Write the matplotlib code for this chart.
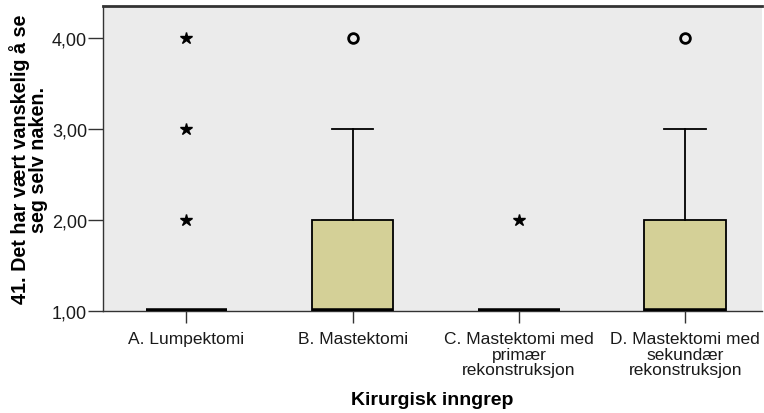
import matplotlib
matplotlib.use("Agg")
import matplotlib.pyplot as plt

# Boxplot summary (one entry per surgery group)
groups = ["A. Lumpektomi", "B. Mastektomi",
          "C. Mastektomi med\nprimær\nrekonstruksjon",
          "D. Mastektomi med\nsekundær\nrekonstruksjon"]
medians = [1.0, 1.0, 1.0, 1.0]
q1 = [1.0, 1.0, 1.0, 1.0]
q3 = [1.0, 2.0, 1.0, 2.0]
whisker_lo = [1.0, 1.0, 1.0, 1.0]
whisker_hi = [1.0, 3.0, 1.0, 3.0]
outliers = [[], [4.0], [], [4.0]]          # drawn as circles
extremes = [[2.0, 3.0, 4.0], [], [2.0], []]  # drawn as stars

yticks = [1.0, 2.0, 3.0, 4.0]
ytick_labels = ["1,00", "2,00", "3,00", "4,00"]

BG = "#ebebeb"
BOX = "#d4d097"

plt.rcParams["font.family"] = ["Liberation Sans", "DejaVu Sans"]

fig = plt.figure(figsize=(7.64, 4.14), dpi=100)
ax = fig.add_axes([0.135, 0.2464, 0.862, 0.7366])
ax.set_facecolor(BG)

stats = []
for i, g in enumerate(groups):
    stats.append(dict(med=medians[i], q1=q1[i], q3=q3[i],
                      whislo=whisker_lo[i], whishi=whisker_hi[i],
                      fliers=outliers[i], label=g))

pos = list(range(1, len(groups) + 1))
ax.bxp(stats, positions=pos, widths=0.49, patch_artist=True,
       boxprops=dict(facecolor=BOX, edgecolor="black", linewidth=1.3),
       medianprops=dict(color="black", linewidth=4, solid_capstyle="butt"),
       whiskerprops=dict(color="black", linewidth=1.3),
       capprops=dict(color="black", linewidth=1.3),
       capwidths=0.25,
       flierprops=dict(marker="o", markersize=7, markerfacecolor="none",
                       markeredgecolor="black", markeredgewidth=2),
       zorder=3)

for p, vals in zip(pos, extremes):
    if vals:
        ax.plot([p] * len(vals), vals, linestyle="none", marker="*",
                markersize=9, color="black", zorder=4, clip_on=False)

ax.set_xlim(0.5, 4.46)
ax.set_ylim(1.0, 4.35)
ax.set_yticks(yticks)
ax.set_yticklabels(ytick_labels, fontsize=13, color="#1a1a1a")
ax.set_xticks(pos)
ax.set_xticklabels(groups, fontsize=12.5, color="#1a1a1a", linespacing=1.05)
ax.tick_params(axis="y", direction="out", length=10.5, width=1, pad=1,
               color="#333333")
ax.tick_params(axis="x", direction="out", length=8.5, width=1, pad=6,
               color="#333333")

for s in ax.spines.values():
    s.set_color("#333333")
    s.set_linewidth(1)
ax.spines["top"].set_linewidth(2)
ax.spines["right"].set_visible(False)

ax.set_ylabel("41. Det har vært vanskelig å se\nseg selv naken.",
              fontsize=14.2, fontweight="bold", labelpad=3, linespacing=0.9)
ax.set_xlabel("Kirurgisk inngrep", fontsize=14, fontweight="bold", labelpad=10)

fig.savefig("out.png", dpi=100)
